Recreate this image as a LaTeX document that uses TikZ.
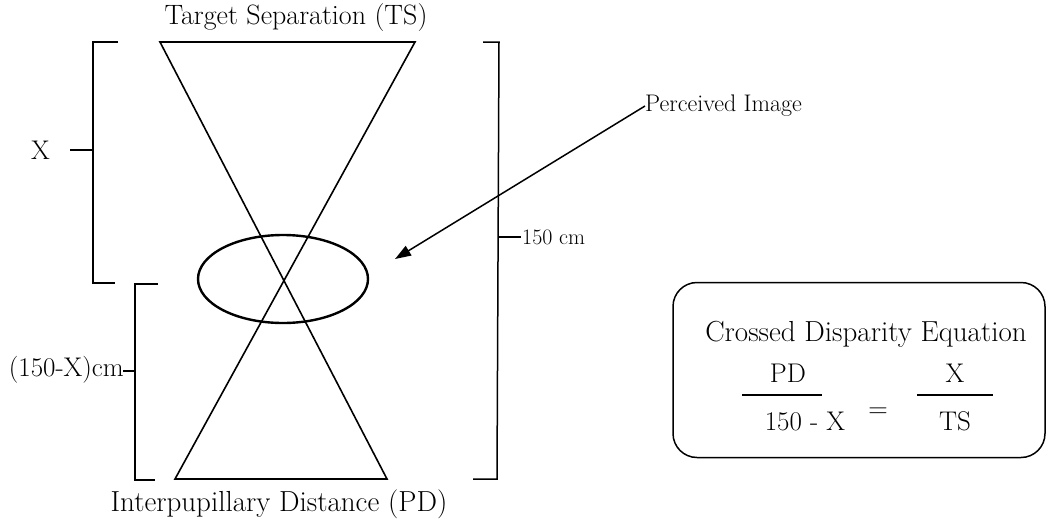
\documentclass[tikz,border=0pt]{standalone}
\usetikzlibrary{arrows.meta,positioning}

\begin{document}
\begin{tikzpicture}[x=1pt, y=-1pt,
    every node/.style={font=\fontsize{27}{31}\selectfont, inner sep=1pt},
    small/.style={font=\fontsize{24}{28}\selectfont},
    smaller/.style={font=\fontsize{22}{26}\selectfont},
    big/.style={font=\fontsize{29}{33}\selectfont},
    ln/.style={line width=1.6pt},
    brk/.style={line width=1.5pt},
    img/.style={line width=2.4pt},
    bar/.style={line width=1.2pt},
    ar/.style={-{Triangle[length=16pt, width=11pt]}, line width=1.5pt},
    eqbox/.style={draw, rounded corners=24pt, line width=1.5pt,
                  minimum width=372pt, minimum height=175pt},
  ]
  \useasboundingbox (0,0) rectangle (1047,525);
  % hourglass of the lines of sight
  \coordinate (tl) at (160,42);
  \coordinate (tr) at (415,42);
  \coordinate (bl) at (175,479);
  \coordinate (br) at (387,479);
  \draw[ln] (tl) -- (tr) -- (bl) -- (br) -- cycle;
  \coordinate (cross) at (283,279);
  \draw[img] (cross) ellipse [x radius=85, y radius=44];
  \node[font=\fontsize{28}{32}\selectfont] (ts) at (296,18) {Target Separation (TS)};
  \node[big] (pdl) at (279,504) {Interpupillary Distance (PD)};
  % brackets
  \draw[brk] (118,42) -- (93,42) -- (93,283) -- (115,283);
  \coordinate (xb) at (93,150);
  \node[anchor=east] (xl) at (51,150) {X};
  \draw[brk] (xb) -- ++(-23,0);
  \draw[brk] (158,284) -- (135,284) -- (135,480) -- (155,480);
  \coordinate (db) at (135,371);
  \node[anchor=east] (dl) at (125,370) {(150-X)cm};
  \draw[brk] (db) -- ++(-12,0);
  \draw[brk] (483,42) -- (499,42) -- (497,479) -- (473,479);
  \coordinate (fb) at (498,237);
  \node[smaller, anchor=west] (fl) at (521,237) {150 cm};
  \draw[brk] (fb) -- (fl.west);
  % arrow to the image
  \node[small, anchor=west, inner sep=0pt] (pi) at (645,106) {Perceived Image};
  \coordinate (tip) at (395,259);
  \draw[ar] (pi.west) -- (tip);
  % equation box
  \node[eqbox] (eq) at (859,370) {};
  \node[big] (eqt) at (866,334) {Crossed Disparity Equation};
  \node (pdn) at (788,373) {PD};
  \node (den) at (805,421) {150 - X};
  \draw[bar] (742,395) -- (822,395);
  \node (eqs) at (878,413) {=};
  \node (xn) at (955,373) {X};
  \node (tsd) at (955,421) {TS};
  \draw[bar] (917,395) -- (993,395);
\end{tikzpicture}
\end{document}
